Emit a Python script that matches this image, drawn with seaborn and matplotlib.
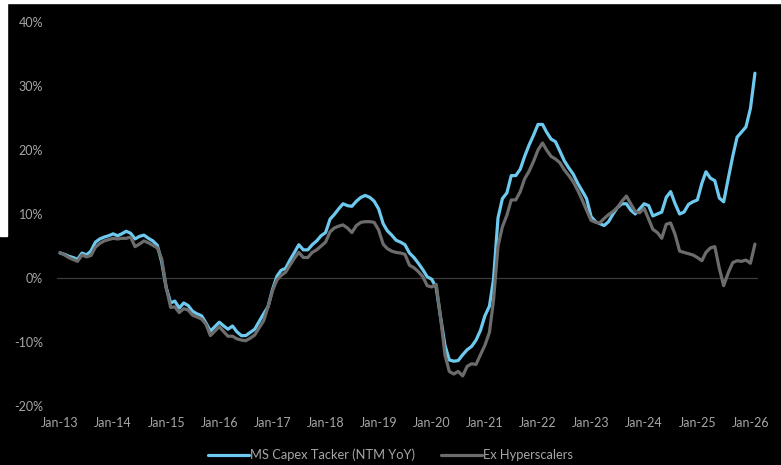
import matplotlib
matplotlib.use("Agg")
import matplotlib.pyplot as plt
import matplotlib.dates as mdates
from matplotlib.patches import Rectangle
from matplotlib.ticker import FuncFormatter
import numpy as np
import pandas as pd
import seaborn as sns

# Monthly observations, Jan-2013 .. Feb-2026 (NTM capex growth, YoY %)
start_month = "2013-01-01"

ms_capex_tracker = [
    3.9, 3.7, 3.4, 3.2, 2.9, 3.9, 3.6, 4.2, 5.6, 6.1, 6.4, 6.6,
    6.9, 6.6, 6.9, 7.3, 7.0, 6.1, 6.5, 6.7, 6.2, 5.8, 5.1, 2.5,
    -1.5, -3.9, -3.6, -4.7, -3.9, -4.3, -5.2, -5.6, -5.9, -7.0, -8.3, -7.6,
    -6.9, -7.5, -8.0, -7.5, -8.4, -9.0, -9.0, -8.5, -8.0, -6.8, -5.6, -4.5,
    -1.8, 0.3, 1.2, 1.5, 2.8, 4.0, 5.2, 4.4, 4.4, 5.2, 5.8, 6.6,
    7.1, 9.2, 9.9, 10.8, 11.6, 11.3, 11.2, 12.0, 12.6, 12.9, 12.6, 12.0,
    10.8, 8.5, 7.4, 6.7, 5.9, 5.6, 5.2, 3.9, 3.2, 2.3, 1.3, 0.2,
    -0.2, -1.5, -6.0, -10.5, -12.8, -13.0, -12.9, -12.0, -11.2, -10.7, -9.7, -8.2,
    -5.9, -4.4, -0.2, 9.4, 12.4, 13.3, 16.0, 16.0, 17.0, 19.0, 20.8, 22.3,
    24.0, 24.0, 22.8, 21.7, 21.3, 19.8, 18.3, 17.2, 16.2, 14.8, 13.6, 12.4,
    9.6, 8.8, 8.5, 8.2, 8.8, 10.0, 11.0, 11.6, 11.6, 10.6, 10.0, 10.8,
    11.6, 11.3, 9.7, 10.0, 10.3, 12.6, 13.5, 11.6, 10.0, 10.3, 11.5, 11.9,
    12.2, 14.8, 16.6, 15.6, 15.2, 12.5, 11.9, 15.5, 19.0, 22.0, 22.8, 23.6,
    26.5, 32.0,
]

ex_hyperscalers = [
    4.0, 3.6, 3.2, 2.9, 2.6, 3.6, 3.3, 3.5, 4.8, 5.4, 5.8, 6.0,
    6.2, 6.1, 6.2, 6.2, 6.4, 4.9, 5.3, 5.8, 5.5, 5.1, 4.7, 3.0,
    -1.5, -4.6, -4.5, -5.4, -4.8, -5.0, -5.8, -6.1, -6.4, -7.2, -9.0, -8.3,
    -7.6, -8.4, -9.1, -9.1, -9.5, -9.7, -9.8, -9.4, -8.9, -7.8, -6.7, -4.5,
    -2.0, -0.3, 0.4, 0.9, 2.0, 3.1, 4.0, 3.2, 3.2, 4.0, 4.4, 5.0,
    5.6, 7.2, 7.8, 8.1, 8.3, 7.8, 7.1, 8.2, 8.7, 8.8, 8.8, 8.7,
    7.5, 5.3, 4.6, 4.2, 4.0, 3.9, 3.7, 2.0, 1.6, 1.0, 0.2, -1.2,
    -1.4, -1.0, -6.0, -12.0, -14.6, -15.0, -14.6, -15.3, -13.8, -13.4, -13.5, -12.0,
    -10.5, -8.5, -3.5, 5.0, 8.0, 9.8, 12.2, 12.2, 13.5, 15.5, 16.7, 18.2,
    20.0, 21.1, 20.0, 19.0, 18.6, 18.0, 16.9, 16.0, 15.0, 13.7, 12.2, 10.6,
    9.0, 8.7, 8.6, 9.3, 9.9, 10.4, 11.0, 12.0, 12.8, 11.6, 10.4, 10.2,
    10.9, 9.2, 7.6, 7.1, 6.2, 8.4, 8.6, 6.8, 4.2, 4.0, 3.8, 3.6,
    3.2, 2.7, 4.0, 4.7, 4.9, 1.5, -1.2, 0.8, 2.4, 2.7, 2.6, 2.8,
    2.3, 5.3,
]

series_names = ["MS Capex Tacker (NTM YoY)", "Ex Hyperscalers"]
series_colors = ["#6ec9ee", "#6c6c6c"]
y_ticks = [-20, -10, 0, 10, 20, 30, 40]
x_tick_years = list(range(2013, 2027))

dates = pd.date_range(start_month, periods=len(ms_capex_tracker), freq="MS")
df = pd.concat([
    pd.DataFrame({"date": dates, "value": ms_capex_tracker, "series": series_names[0]}),
    pd.DataFrame({"date": dates, "value": ex_hyperscalers, "series": series_names[1]}),
])

sns.set_theme(style="dark")
plt.rcParams["font.family"] = ["Lato", "DejaVu Sans"]

text_color = "#a6a6a6"
fig = plt.figure(figsize=(7.81, 4.65), dpi=100, facecolor="black")

# thin white frame remnants along the top and upper-left edge
fig.patches.append(Rectangle((0, 1 - 3 / 465), 1, 3 / 465, transform=fig.transFigure,
                             color="white", zorder=0))
fig.patches.append(Rectangle((0, 1 - 236 / 465), 7 / 781, 236 / 465, transform=fig.transFigure,
                             color="white", zorder=0))

ax = fig.add_axes([57 / 781, 59 / 465, 701 / 781, 384 / 465])
ax.set_facecolor("black")

ax.axhline(0, color="#3c3c3c", lw=0.9, zorder=1)

sns.lineplot(data=df, x="date", y="value", hue="series", hue_order=series_names,
             palette=series_colors, linewidth=2.3, ax=ax, zorder=3)

ax.set_ylim(-20, 40)
ax.set_yticks(y_ticks)
ax.yaxis.set_major_formatter(FuncFormatter(lambda v, _: f"{v:.0f}%"))
ax.set_xlim(pd.Timestamp("2012-12-11"), pd.Timestamp("2026-02-22"))
ax.set_xticks([pd.Timestamp(f"{y}-01-01") for y in x_tick_years])
ax.xaxis.set_major_formatter(mdates.DateFormatter("%b-%y"))

ax.grid(False)
for s in ax.spines.values():
    s.set_visible(False)
ax.tick_params(axis="y", length=0, pad=10, labelsize=9, labelcolor=text_color)
ax.tick_params(axis="x", length=0, pad=8, labelsize=9, labelcolor=text_color)
ax.set_xlabel("")
ax.set_ylabel("")

handles, labels = ax.get_legend_handles_labels()
ax.get_legend().remove()
leg = fig.legend(handles, labels, loc="center", bbox_to_anchor=(0.5, 0.022), ncol=2,
                 frameon=False, fontsize=9.3, labelcolor=text_color, handlelength=3.2,
                 handletextpad=0.05, columnspacing=2.0)
for line in leg.get_lines():
    line.set_linewidth(2.3)

fig.savefig("out.png", dpi=100, facecolor=fig.get_facecolor())
